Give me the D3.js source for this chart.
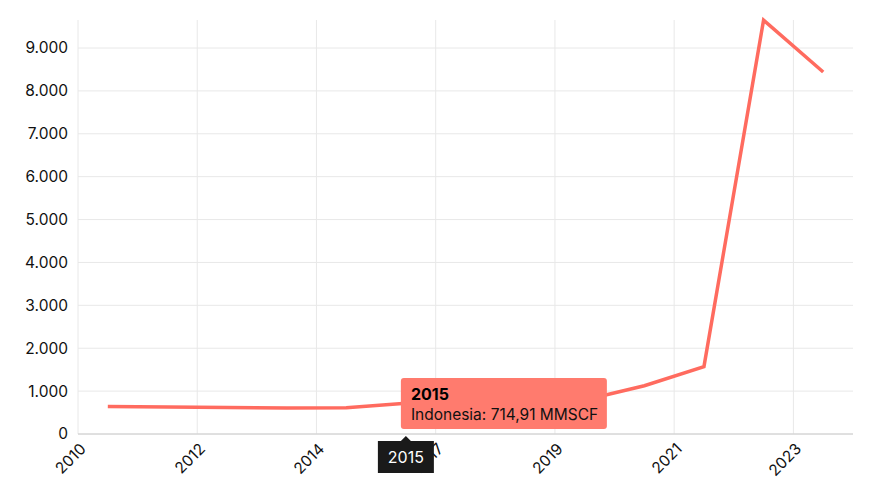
<!DOCTYPE html>
<html><head><meta charset="utf-8">
<script src="https://cdn.jsdelivr.net/npm/d3@7"></script>
<style>body{margin:0;background:#fff;font-family:Inter,"Noto Sans",sans-serif}</style>
</head><body><div id="chart"></div>
<script>
const years = [2011,2012,2013,2014,2015,2015,2016,2017,2018,2019,2020,2021,2022];
const values = [640, 630, 620, 605, 612, 714.91, 745, 768, 795, 1125, 1570, 9650, 8440];
const tickLabels = ['2010','2012','2014','2017','2019','2021','2023'];
const yTicks = [0,1000,2000,3000,4000,5000,6000,7000,8000,9000];
const hoverIndex = 5;

const W = 873, H = 500, m = {l: 78, r: 20, t: 10, b: 66};
const svg = d3.select('#chart').append('svg').attr('width', W).attr('height', H);

const x = d3.scaleLinear().domain([0, 13]).range([m.l, W - m.r]);
const y = d3.scaleLinear().domain([0, 9000]).range([H - m.b, 48]);

const fmt = d3.formatLocale({decimal: ',', thousands: '.', grouping: [3], currency: ['', '']});

// grid
svg.append('g').selectAll('line').data(yTicks).enter().append('line')
  .attr('x1', m.l).attr('x2', W - m.r).attr('y1', d => y(d)).attr('y2', d => y(d))
  .attr('stroke', '#e8e8e8');
svg.append('g').selectAll('line').data(d3.range(0, 14, 2)).enter().append('line')
  .attr('x1', d => x(d)).attr('x2', d => x(d)).attr('y1', 20).attr('y2', H - m.b)
  .attr('stroke', '#e8e8e8');
svg.append('line').attr('x1', m.l).attr('x2', W - m.r).attr('y1', y(0)).attr('y2', y(0)).attr('stroke', '#ccc');

svg.append('g').selectAll('text').data(yTicks).enter().append('text')
  .attr('x', m.l - 10).attr('y', d => y(d)).attr('dy', '0.35em')
  .attr('text-anchor', 'end').attr('font-size', 15.5).attr('fill', '#111')
  .text(d => fmt.format(',')(d));

svg.append('g').selectAll('text').data(tickLabels).enter().append('text')
  .attr('transform', (d, i) => `translate(${x(i * 2) + 5},${H - m.b + 12}) rotate(-45)`)
  .attr('text-anchor', 'end').attr('dy', '0.35em').attr('font-size', 15.5).attr('fill', '#111')
  .text(d => d);

const line = d3.line().x((d, i) => x(i + 0.5)).y(d => y(d));
svg.append('path').datum(values).attr('d', line)
  .attr('fill', 'none').attr('stroke', '#ff6b5f').attr('stroke-width', 3.5).attr('stroke-linejoin', 'miter');

// tooltip
const px = x(hoverIndex + 0.5), py = y(values[hoverIndex]);
svg.append('circle').attr('cx', px).attr('cy', py).attr('r', 3.5).attr('fill', '#ff7b6e').attr('stroke', '#fff');
const tip = svg.append('g').attr('transform', `translate(${px - 5},${H - m.b - 56})`);
tip.append('rect').attr('width', 206).attr('height', 51).attr('rx', 3).attr('fill', '#ff7b6e');
tip.append('text').attr('x', 10).attr('y', 22).attr('font-size', 16).attr('font-weight', 700).attr('fill', '#000').text(years[hoverIndex]);
tip.append('text').attr('x', 10).attr('y', 42).attr('font-size', 15.5).attr('fill', '#111')
  .text('Indonesia: ' + fmt.format(',.2f')(values[hoverIndex]) + ' MMSCF');

const xl = svg.append('g').attr('transform', `translate(${px},${H - m.b})`);
xl.append('path').attr('d', 'M-5,7 L0,2 L5,7 Z').attr('fill', '#1a1a1a');
xl.append('rect').attr('x', -28).attr('y', 7).attr('width', 56).attr('height', 32).attr('fill', '#1a1a1a');
xl.append('text').attr('y', 29).attr('text-anchor', 'middle').attr('font-size', 16).attr('fill', '#fff').text(years[hoverIndex]);
</script></body></html>
